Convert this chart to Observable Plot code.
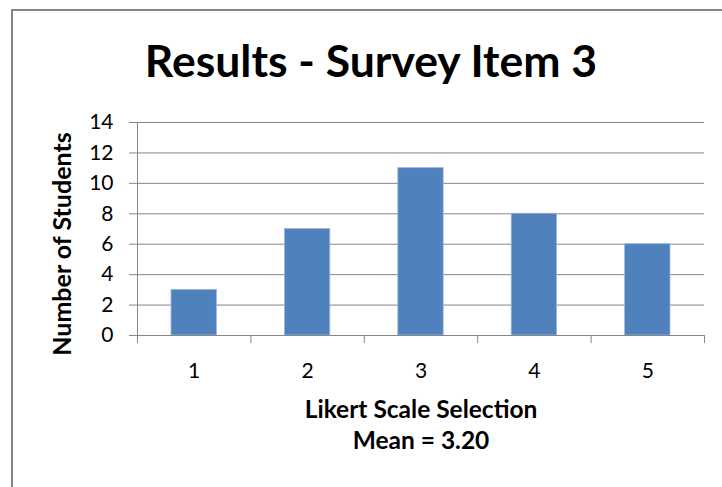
<!DOCTYPE html>
<html>
<head>
<meta charset="utf-8">
<script src="https://cdn.jsdelivr.net/npm/d3@7"></script>
<script src="https://cdn.jsdelivr.net/npm/@observablehq/plot@0.6"></script>
<style>
  body { margin: 0; background: #fff; }
  #chart { position: relative; width: 722px; height: 487px; overflow: hidden; font-family: Lato, "Open Sans", sans-serif; }
  #frame { position: absolute; left: 11px; top: 9px; width: 800px; height: 600px; border: 2px solid #868686; box-sizing: border-box; }
  #title { position: absolute; left: 11px; width: 720px; top: 33px; text-align: center; font-weight: bold; font-size: 44.5px; line-height: 1.2; color: #000; }
  #plot { position: absolute; left: 0; top: 0; }
</style>
</head>
<body>
<div id="chart">
  <div id="frame"></div>
  <div id="plot"></div>
  <div id="title"></div>
</div>
<script>
// Survey item 3: number of students choosing each Likert scale option
const chartTitle = "Results - Survey Item 3";
const selections = [1, 2, 3, 4, 5];
const students = [3, 7, 11, 8, 6];
const yTicks = [0, 2, 4, 6, 8, 10, 12, 14];
const yLabel = "Number of Students";
const xLabel = "Likert Scale Selection";

const data = selections.map((s, i) => ({selection: s, students: students[i]}));
const mean = d3.sum(data, d => d.selection * d.students) / d3.sum(data, d => d.students);
const xTitle = `${xLabel}\nMean = ${mean.toFixed(2)}`;

// category boundaries between the Likert options
const boundaries = d3.range(selections.length + 1).map(i => selections[0] - 0.5 + i);

const gray = "#868686";

const plot = Plot.plot({
  width: 722,
  height: 487,
  marginLeft: 137,
  marginRight: 18,
  marginTop: 122,
  marginBottom: 152,
  style: {fontFamily: "Lato, 'Open Sans', sans-serif", fontSize: "21px", color: "#000", background: "transparent"},
  x: {domain: [boundaries[0], boundaries[boundaries.length - 1]]},
  y: {domain: [0, 14]},
  marks: [
    Plot.gridY(yTicks, {stroke: gray, strokeOpacity: 1}),
    Plot.rectY(data, {
      x1: d => d.selection - 0.2,
      x2: d => d.selection + 0.2,
      y: "students",
      fill: "#4f81bd",
      stroke: "#9bb7da",
      strokeWidth: 0.8
    }),
    Plot.ruleY([0], {stroke: gray}),
    Plot.ruleX([boundaries[0]], {stroke: gray}),
    Plot.axisY({ticks: yTicks, tickSize: 8, tickPadding: 16, stroke: gray, label: null, fontSize: 21}),
    Plot.axisX({ticks: boundaries, tickSize: 8, tickFormat: () => "", stroke: gray, label: null}),
    Plot.axisX({ticks: selections, tickSize: 0, tickPadding: 28, tickFormat: "d", label: null, fontSize: 21}),
    Plot.text([xTitle], {
      frameAnchor: "bottom",
      lineAnchor: "top",
      dy: 61,
      lineHeight: 1.25,
      fontWeight: "bold",
      fontSize: 24.5
    }),
    Plot.text([yLabel], {
      frameAnchor: "left",
      textAnchor: "middle",
      rotate: -90,
      dx: -75,
      dy: 15,
      fontWeight: "bold",
      fontSize: 25
    })
  ]
});

document.getElementById("plot").append(plot);
document.getElementById("title").textContent = chartTitle;
</script>
</body>
</html>
